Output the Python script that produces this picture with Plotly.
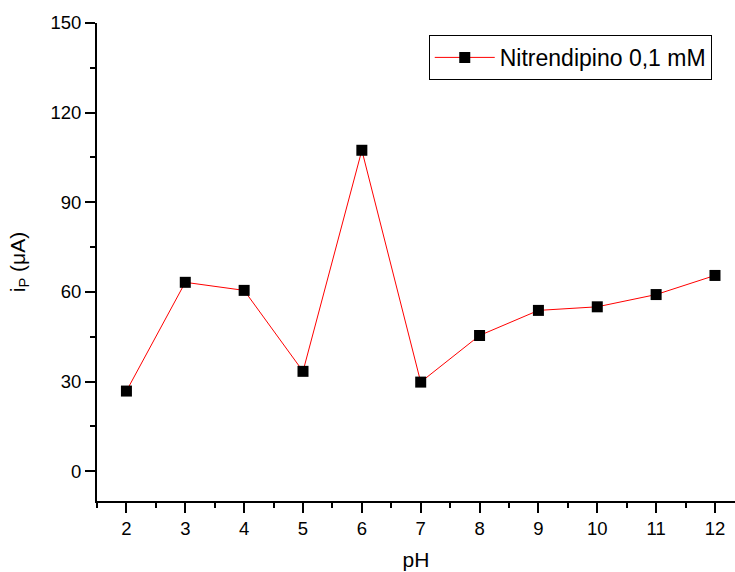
import plotly.graph_objects as go

# pH study of the peak current
ph = [2, 3, 4, 5, 6, 7, 8, 9, 10, 11, 12]
ip_ua = [26.8, 63.2, 60.5, 33.4, 107.4, 29.8, 45.4, 53.8, 55.0, 59.1, 65.5]
series_name = "Nitrendipino 0,1 mM"

x_ticks = [2, 3, 4, 5, 6, 7, 8, 9, 10, 11, 12]
y_ticks = [0, 30, 60, 90, 120, 150]

font_family = "Liberation Sans, Arial, sans-serif"

fig = go.Figure()
fig.add_trace(go.Scatter(
    x=ph, y=ip_ua, mode="lines+markers", name=series_name,
    line=dict(color="#ff0000", width=1),
    marker=dict(symbol="square", size=11, color="black",
                line=dict(width=0)),
))

axis_common = dict(
    showline=True, linecolor="black", linewidth=2,
    ticks="outside", ticklen=10, tickwidth=2, tickcolor="black",
    showgrid=False, zeroline=False, mirror=False,
    tickfont=dict(family=font_family, size=18.5, color="black"),
)
minor_common = dict(ticks="outside", ticklen=5, tickwidth=2,
                    tickcolor="black", showgrid=False)

fig.update_layout(
    width=735, height=572,
    margin=dict(l=97, r=0, t=23, b=71),
    paper_bgcolor="white", plot_bgcolor="white",
    font=dict(family=font_family, color="black"),
    xaxis=dict(range=[1.5, 12.34], tickvals=x_ticks,
               title=dict(text="pH", font=dict(size=21), standoff=14),
               minor=dict(minor_common, dtick=0.5, tick0=1.5),
               **axis_common),
    yaxis=dict(range=[-10, 150], tickvals=y_ticks,
               title=dict(text="i<sub>P</sub> (μA)", font=dict(size=21), standoff=19),
               minor=dict(minor_common, dtick=15, tick0=0),
               **axis_common),
    legend=dict(x=0.52, y=0.975, xanchor="left", yanchor="top",
                bordercolor="black", borderwidth=1, bgcolor="white",
                font=dict(family=font_family, size=23, color="black"),
                itemwidth=60),
    showlegend=True,
)

fig.write_html("out.html")
